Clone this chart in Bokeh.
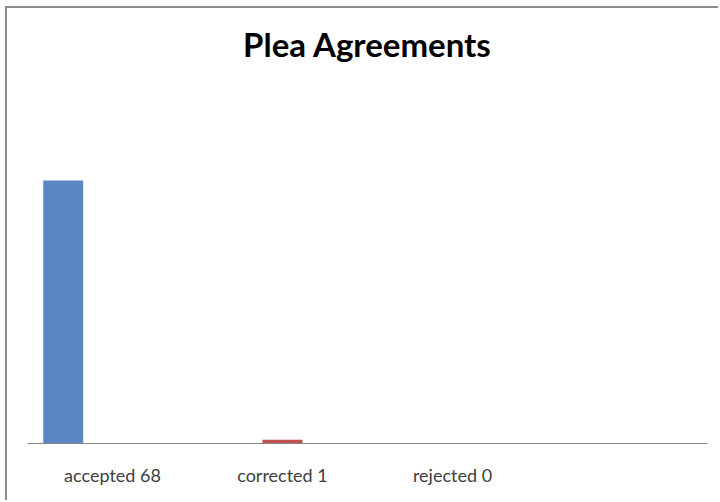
from bokeh.plotting import figure
from bokeh.models import FactorRange, Range1d, ColumnDataSource
from bokeh.transform import dodge
from bokeh.embed import file_html
from bokeh.resources import INLINE

# Plea agreement outcomes
statuses = ["accepted", "corrected", "rejected"]
counts = [68, 1, 0]
bar_colors = ["#5887C4", "#C0504D", "#9BBB59"]
# each outcome's bar sits at its own offset within its category slot
bar_offsets = [-0.29, 0.0, 0.29]

tick_labels = [f"{s} {n}" for s, n in zip(statuses, counts)]
slots = tick_labels + [" "]

p = figure(
    width=713, height=494,
    x_range=FactorRange(factors=slots, range_padding=0),
    y_range=Range1d(0, 97),
    output_backend="svg", toolbar_location=None,
    min_border_left=20, min_border_right=13,
    min_border_top=60, min_border_bottom=59,
    title="Plea Agreements",
    # chart border along the left and top edges
    styles={
        "position": "absolute", "left": "7px", "top": "8px",
        "box-shadow": "-2px -2px 0 0 #8C8C8C",
    },
)

p.title.align = "center"
p.title.text_font = "Lato"
p.title.text_font_style = "bold"
p.title.text_font_size = "33px"
p.title.text_color = "#000000"
p.title.standoff = 10

for label, n, color, off in zip(tick_labels, counts, bar_colors, bar_offsets):
    src = ColumnDataSource(dict(x=[label], top=[n]))
    p.vbar(x=dodge("x", off, range=p.x_range), top="top", bottom=0,
           width=0.235, source=src, fill_color=color, line_color=None)

p.yaxis.visible = False
p.xgrid.grid_line_color = None
p.ygrid.grid_line_color = None
p.outline_line_color = None

ax = p.xaxis[0]
ax.axis_line_color = "#868686"
ax.axis_line_width = 1
ax.major_tick_line_color = None
ax.minor_tick_line_color = None
ax.major_label_text_font = "Lato"
ax.major_label_text_font_size = "18px"
ax.major_label_text_color = "#404040"
ax.major_label_standoff = 14

open("out.html", "w").write(file_html(p, INLINE))
